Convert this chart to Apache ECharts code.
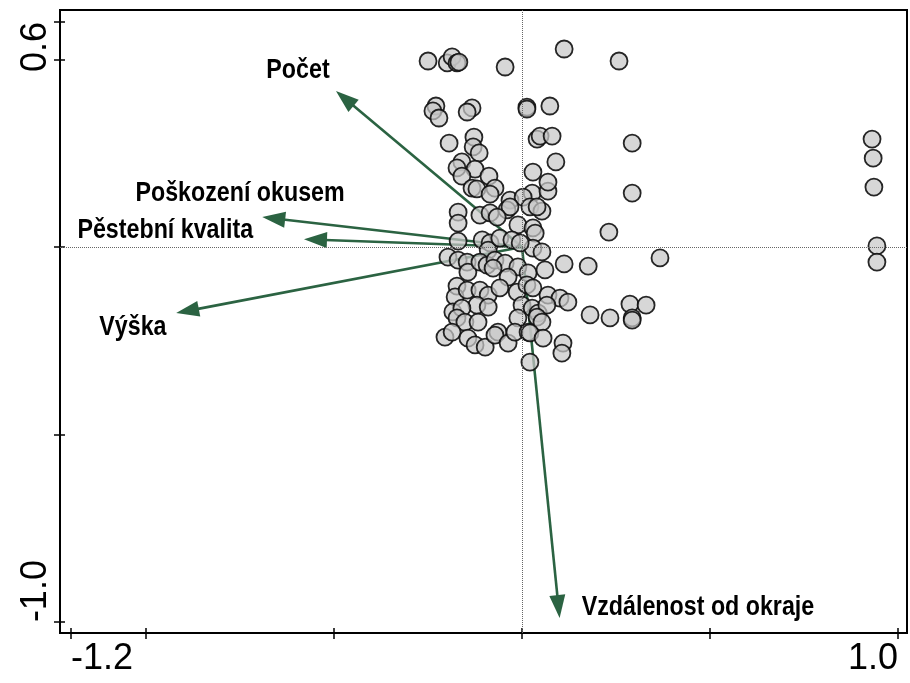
<!DOCTYPE html>
<html>
<head>
<meta charset="utf-8">
<script src="https://cdn.jsdelivr.net/npm/echarts@6/dist/echarts.min.js"></script>
<style>
    html, body { margin: 0; padding: 0; background: #fff; }
    #chart { width: 910px; height: 683px; }
</style>
</head>
<body>
<div id="chart"></div>
<script>
/* data: ordination scores */

// samples (circles), [axis1, axis2]
const sampleScores = [
    [-0.250, 0.496], [-0.199, 0.491], [-0.186, 0.507], [-0.173, 0.491], [-0.168, 0.493],
    [-0.045, 0.480], [0.112, 0.528], [0.258, 0.496],
    [-0.229, 0.376], [-0.237, 0.363], [-0.221, 0.344], [-0.133, 0.371], [-0.146, 0.360],
    [0.013, 0.373], [0.013, 0.368], [0.074, 0.376],
    [-0.194, 0.277], [-0.128, 0.293], [-0.130, 0.267], [-0.114, 0.251], [0.040, 0.288],
    [0.048, 0.296], [0.080, 0.296], [0.293, 0.277], [0.931, 0.288],
    [0.090, 0.227], [0.029, 0.200], [-0.160, 0.227], [-0.173, 0.211], [-0.125, 0.208],
    [-0.160, 0.189], [-0.088, 0.189], [-0.133, 0.157], [-0.120, 0.155], [-0.072, 0.157],
    [-0.085, 0.141], [0.027, 0.144], [0.069, 0.149], [0.293, 0.144], [-0.032, 0.125],
    [0.934, 0.237], [0.936, 0.160], [0.003, 0.133], [0.069, 0.173],
    [-0.170, 0.093], [-0.170, 0.064], [-0.112, 0.085], [-0.085, 0.091], [-0.040, 0.099],
    [-0.032, 0.107], [0.021, 0.107], [0.053, 0.096], [-0.011, 0.059], [0.029, 0.051],
    [0.035, 0.037], [0.231, 0.040], [-0.066, 0.080], [0.040, 0.107],
    [-0.170, 0.016], [-0.106, 0.019], [-0.085, 0.011], [-0.090, -0.008], [-0.059, 0.024],
    [-0.027, 0.019], [0.029, -0.003], [0.053, -0.013], [0.944, 0.003], [-0.005, 0.011],
    [-0.197, -0.027], [-0.170, -0.035], [-0.146, -0.040], [-0.144, -0.067], [-0.112, -0.040],
    [-0.093, -0.048], [-0.072, -0.035], [-0.045, -0.043], [-0.077, -0.056], [-0.011, -0.053],
    [0.016, -0.069], [0.061, -0.061], [0.112, -0.045], [0.176, -0.051], [0.367, -0.029],
    [0.944, -0.040], [-0.037, -0.080],
    [-0.173, -0.104], [-0.178, -0.133], [-0.146, -0.115], [-0.112, -0.115], [-0.090, -0.128],
    [-0.059, -0.109], [-0.013, -0.120], [0.013, -0.101], [0.029, -0.109], [0.069, -0.128],
    [0.101, -0.136], [0.122, -0.147],
    [-0.120, -0.155], [-0.090, -0.160], [-0.184, -0.173], [-0.160, -0.163], [0.000, -0.155],
    [0.027, -0.163], [0.043, -0.176], [0.066, -0.155], [-0.173, -0.189], [-0.152, -0.200],
    [-0.117, -0.200], [-0.011, -0.189], [0.040, -0.187], [0.053, -0.200], [0.287, -0.152],
    [0.330, -0.155], [0.181, -0.181], [0.234, -0.189], [0.293, -0.189], [0.293, -0.195],
    [-0.205, -0.240], [-0.186, -0.227], [-0.144, -0.243], [-0.125, -0.261], [-0.098, -0.267],
    [-0.064, -0.227], [-0.072, -0.235], [-0.037, -0.256], [-0.019, -0.227], [0.016, -0.227],
    [0.021, -0.229], [0.056, -0.243], [0.109, -0.256], [0.106, -0.283], [0.021, -0.307]
];

// explanatory variables (arrows)
const varNames = ['Počet', 'Poškození okusem', 'Pěstební kvalita', 'Výška', 'Vzdálenost od okraje'];
const varX = [-0.495, -0.691, -0.580, -0.920, 0.100];
const varY = [0.416, 0.080, 0.021, -0.176, -0.989];
// where the arrow names sit (centre of text)
const varLabelX = [-0.596, -0.750, -0.949, -1.035, 0.468];
const varLabelY = [0.472, 0.144, 0.045, -0.213, -0.960];

// axes
const xRange = [-1.229, 1.024];
const yRange = [-1.029, 0.632];
const xTicks = [-1.2, -1.0, -0.5, 0, 0.5, 1.0];
const xTickLabels = [-1.2, 1.0];
const yTicks = [-1.0, -0.5, 0, 0.5, 0.6];
const yTickLabels = [-1.0, 0.6];

const ARROW_COLOR = '#2b6342';
const FONT = '"Liberation Sans", Arial, sans-serif';

const chartObj = echarts.init(document.getElementById('chart'));

// arrow = line from origin + filled triangle head at the tip
function renderArrow(params, api) {
    const o = api.coord([0, 0]);
    const t = api.coord([api.value(0), api.value(1)]);
    const dx = t[0] - o[0], dy = t[1] - o[1];
    const len = Math.sqrt(dx * dx + dy * dy);
    const ux = dx / len, uy = dy / len;
    const headLen = 23, headHalf = 8;
    const bx = t[0] - ux * headLen, by = t[1] - uy * headLen;
    return {
        type: 'group',
        children: [
            {
                type: 'line',
                shape: { x1: o[0], y1: o[1], x2: bx + ux * 2, y2: by + uy * 2 },
                style: { stroke: ARROW_COLOR, lineWidth: 2.6 }
            },
            {
                type: 'polygon',
                shape: {
                    points: [
                        [t[0], t[1]],
                        [bx - uy * headHalf, by + ux * headHalf],
                        [bx + uy * headHalf, by - ux * headHalf]
                    ]
                },
                style: { fill: ARROW_COLOR }
            }
        ]
    };
}

// arrow names, squeezed a little like the narrow font of the original
function renderVarLabel(params, api) {
    const p = api.coord([api.value(0), api.value(1)]);
    return {
        type: 'text',
        x: p[0],
        y: p[1],
        scaleX: 0.83,
        style: {
            text: varNames[params.dataIndex],
            fill: '#000',
            font: 'bold 28px ' + FONT,
            align: 'center',
            verticalAlign: 'middle'
        }
    };
}

const option = {
    animation: false,
    grid: {
        left: 60,
        right: 3,
        top: 10,
        bottom: 50,
        show: true,
        borderColor: '#000',
        borderWidth: 2
    },
    xAxis: [
        {
            type: 'value',
            min: xRange[0],
            max: xRange[1],
            axisLine: { show: true, onZero: false, lineStyle: { color: '#000', width: 2 } },
            axisTick: { show: true, length: 6, customValues: xTicks, lineStyle: { color: '#000', width: 1.5 } },
            axisLabel: {
                show: true,
                customValues: xTickLabels,
                formatter: v => v.toFixed(1),
                fontFamily: FONT,
                fontSize: 36,
                color: '#000',
                margin: 8,
                alignMinLabel: 'left',
                alignMaxLabel: 'right'
            },
            splitLine: { show: false }
        },
        {
            type: 'value',
            position: 'bottom',
            min: xRange[0],
            max: xRange[1],
            axisLine: { show: false, onZero: false },
            axisTick: { show: true, inside: true, length: 5, customValues: xTicks, lineStyle: { color: '#000', width: 1.5 } },
            axisLabel: { show: false },
            splitLine: { show: false }
        }
    ],
    yAxis: [
        {
            type: 'value',
            min: yRange[0],
            max: yRange[1],
            axisLine: { show: true, onZero: false, lineStyle: { color: '#000', width: 2 } },
            axisTick: { show: true, length: 6, customValues: yTicks, lineStyle: { color: '#000', width: 1.5 } },
            axisLabel: {
                show: true,
                customValues: yTickLabels,
                formatter: v => v.toFixed(1),
                rotate: 90,
                fontFamily: FONT,
                fontSize: 36,
                color: '#000',
                margin: 6,
                alignMinLabel: 'left',
                alignMaxLabel: 'right'
            },
            splitLine: { show: false }
        },
        {
            type: 'value',
            position: 'left',
            min: yRange[0],
            max: yRange[1],
            axisLine: { show: false, onZero: false },
            axisTick: { show: true, inside: true, length: 5, customValues: yTicks, lineStyle: { color: '#000', width: 1.5 } },
            axisLabel: { show: false },
            splitLine: { show: false }
        }
    ],
    series: [
        {
            // zero lines
            type: 'line',
            data: [],
            silent: true,
            markLine: {
                silent: true,
                symbol: 'none',
                label: { show: false },
                lineStyle: { color: '#666', type: 'dotted', width: 1 },
                data: [{ xAxis: 0 }, { yAxis: 0 }]
            }
        },
        {
            type: 'custom',
            name: 'vars',
            renderItem: renderArrow,
            data: varX.map((x, i) => [x, varY[i]]),
            z: 3
        },
        {
            type: 'scatter',
            name: 'samples',
            data: sampleScores,
            symbol: 'circle',
            symbolSize: 17,
            itemStyle: {
                color: 'rgba(200, 200, 200, 0.72)',
                borderColor: 'rgba(15, 15, 15, 0.9)',
                borderWidth: 1.8,
                opacity: 1
            },
            z: 4
        },
        {
            type: 'custom',
            name: 'varLabels',
            renderItem: renderVarLabel,
            data: varLabelX.map((x, i) => [x, varLabelY[i]]),
            z: 5
        }
    ]
};

chartObj.setOption(option);
</script>
</body>
</html>
